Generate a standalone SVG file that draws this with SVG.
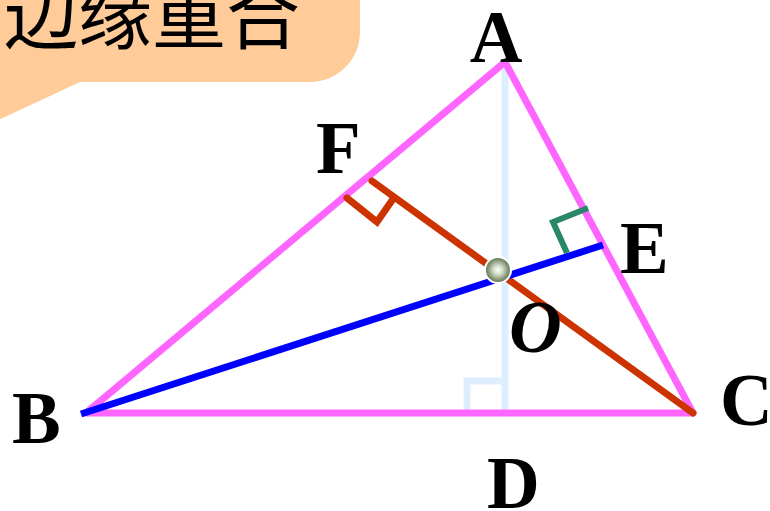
<svg xmlns="http://www.w3.org/2000/svg" width="770" height="511" viewBox="0 0 770 511">
<defs>
<style>
.lbl{font-family:"Liberation Serif","Times New Roman",serif;font-weight:bold;font-size:73px;fill:#000}
.tri{stroke:#ff66ff;stroke-width:7;fill:none;stroke-linecap:round;stroke-linejoin:round}
.alt{stroke:#ddeeff;stroke-width:7;fill:none}
.red{stroke:#cc3300;stroke-width:7;fill:none;stroke-linecap:round}
.blue{stroke:#0000ff;stroke-width:7;fill:none}
.grn{stroke:#2a876a;stroke-width:6;fill:none}
</style>
<radialGradient id="og" cx="0.5" cy="0.5" r="0.5">
<stop offset="0" stop-color="#ffffff"/>
<stop offset="0.35" stop-color="#d4dccb"/>
<stop offset="0.8" stop-color="#7d8f6c"/>
<stop offset="1" stop-color="#5a6e4a"/>
</radialGradient>
</defs>
<rect width="770" height="511" fill="#ffffff"/>
<g id="callout">
<path d="M-10,-10 H360 V32 A50,50 0 0 1 310,82 H80 L-10,124 Z" fill="#ffcc99"/>
<text x="300" y="43" text-anchor="end" font-family="Noto Sans CJK SC, sans-serif" font-size="74" fill="#000">边缘重合</text>
</g>
<g id="connectors">
<line class="alt" x1="505" y1="62" x2="505" y2="413"/>
<path class="alt" d="M467,413 V381 H505"/>
<path class="tri" d="M505,62 L86,413 L693,413 Z"/>
<line class="red" x1="693" y1="413" x2="372" y2="181"/>
<path class="red" d="M347,198 L377,222 L393,199" stroke-linecap="butt" stroke-linejoin="miter"/>
<line class="blue" x1="81" y1="414" x2="603" y2="245"/>
<path class="grn" d="M567,253 L553,222 L588,208"/>
</g>
<g id="O">
<circle cx="498" cy="270" r="13" fill="url(#og)" stroke="#ffffff" stroke-width="2"/>
<text class="lbl" x="509" y="352" font-style="italic">O</text>
</g>
<g id="A"><text class="lbl" x="496" y="62" text-anchor="middle">A</text></g>
<g id="B"><text class="lbl" x="12" y="443">B</text></g>
<g id="C"><text class="lbl" x="720" y="425">C</text></g>
<g id="D"><text class="lbl" x="487" y="508">D</text></g>
<g id="E"><text class="lbl" x="620" y="273">E</text></g>
<g id="F"><text class="lbl" x="316" y="173">F</text></g>
</svg>
